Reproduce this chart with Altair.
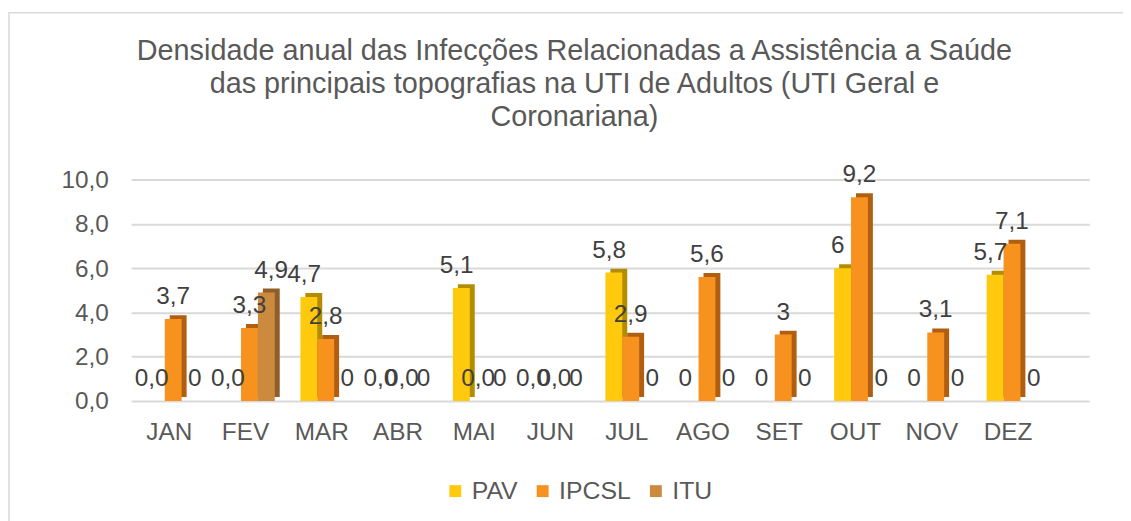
import altair as alt
import pandas as pd

months = ["JAN", "FEV", "MAR", "ABR", "MAI", "JUN", "JUL", "AGO", "SET", "OUT", "NOV", "DEZ"]
series = ["PAV", "IPCSL", "ITU"]
pav = [0, 0, 4.7, 0, 5.1, 0, 5.8, 0, 0, 6, 0, 5.7]
pav_lbl = ["0,0", "0,0", "4,7", "0,0", "5,1", "0,0", "5,8", "0", "0", "6", "0", "5,7"]
ipcsl = [3.7, 3.3, 2.8, 0, 0, 0, 2.9, 5.6, 3, 9.2, 3.1, 7.1]
ipcsl_lbl = ["3,7", "3,3", "2,8", "0,0", "0,0", "0,0", "2,9", "5,6", "3", "9,2", "3,1", "7,1"]
itu = [0, 4.9, 0, 0, 0, 0, 0, 0, 0, 0, 0, 0]
itu_lbl = ["0", "4,9", "0", "0", "0", "0", "0", "0", "0", "0", "0", "0"]

front_colors = ["#FFC90E", "#F7921E", "#CC8A3F"]
side_colors = ["#B38C00", "#B05F12", "#8F5E2A"]

rows = []
for s, vals, lbls in [("PAV", pav, pav_lbl), ("IPCSL", ipcsl, ipcsl_lbl), ("ITU", itu, itu_lbl)]:
    for m, v, l in zip(months, vals, lbls):
        rows.append({"mes": m, "serie": s, "valor": v, "rotulo": l})
df = pd.DataFrame(rows)

FONT = "Liberation Sans"
W, H = 965, 223
N = len(months)
PO = 0.2826
STEP = W / (N + 2 * PO)
BW = STEP  # paddingInner 0

x_enc = alt.X("mes:N", sort=months, title=None,
              scale=alt.Scale(paddingInner=0, paddingOuter=PO, align=0.092),
              axis=alt.Axis(labelFontSize=24.5, labelColor="#595959", labelFont=FONT,
                            domain=False, ticks=False, labelPadding=20, labelAngle=0,
                            labelOffset=-4))
xo_front = alt.XOffset("serie:N", sort=series,
                       scale=alt.Scale(paddingInner=0, paddingOuter=0.76))
xo_side = alt.XOffset("serie:N", sort=series,
                      scale=alt.Scale(paddingInner=0, paddingOuter=0.76,
                                      range=[5, BW + 5]))
y_enc = alt.Y("valor:Q", title=None,
              scale=alt.Scale(domain=[0, 10]),
              axis=alt.Axis(values=[0, 2, 4, 6, 8, 10], labelFontSize=24.5,
                            labelColor="#595959", labelFont=FONT,
                            labelExpr="replace(format(datum.value, '.1f'), '.', ',')",
                            domain=False, ticks=False, labelPadding=23,
                            labelOffset=1,
                            gridColor="#D9D9D9", gridWidth=2))

base = alt.Chart(df)

side = base.mark_bar(yOffset=-4, y2Offset=0).encode(
    x=x_enc, xOffset=xo_side, y=y_enc,
    color=alt.Color("serie:N", sort=series, legend=None,
                    scale=alt.Scale(domain=series, range=side_colors)),
)

front = base.mark_bar().encode(
    x=x_enc, xOffset=xo_front, y=y_enc,
    color=alt.Color("serie:N", sort=series, title=None,
                    scale=alt.Scale(domain=series, range=front_colors),
                    legend=alt.Legend(orient="none", direction="horizontal",
                                      legendX=314, legendY=301,
                                      symbolType="square", symbolSize=144,
                                      symbolStrokeWidth=0,
                                      labelFontSize=25, labelColor="#595959",
                                      labelFont=FONT, columnPadding=12,
                                      labelOffset=4)),
)

labels = base.mark_text(baseline="alphabetic", dy=-15, fontSize=24.5,
                        color="#404040", font=FONT).encode(
    x=x_enc, xOffset=xo_front, y=y_enc, text="rotulo:N",
)

frame_df = pd.DataFrame({"k": [0]})
frame = alt.Chart(frame_df).mark_rect(fill=None, stroke="#D9D9D9", strokeWidth=1.5).encode(
    x=alt.value(-123), x2=alt.value(1100), y=alt.value(-168), y2=alt.value(500)
)

chart = alt.layer(frame, side, front, labels).resolve_scale(
    color="independent", xOffset="independent"
).properties(
    width=W, height=H,
    autosize=alt.AutoSizeParams(type="none"),
    padding={"left": 124, "top": 171, "right": 34, "bottom": 119},
    title=alt.TitleParams(
        text=["Densidade anual das Infecções Relacionadas a Assistência a Saúde",
              "das principais topografias na UTI de Adultos (UTI Geral e",
              "Coronariana)"],
        fontSize=29, font=FONT, color="#595959", fontWeight="normal",
        lineHeight=33.5, anchor="middle", frame="group", dx=-36, dy=141, offset=20),
).configure_view(stroke=None)

chart.save("out.html", embed_options={"renderer": "svg", "actions": False})
